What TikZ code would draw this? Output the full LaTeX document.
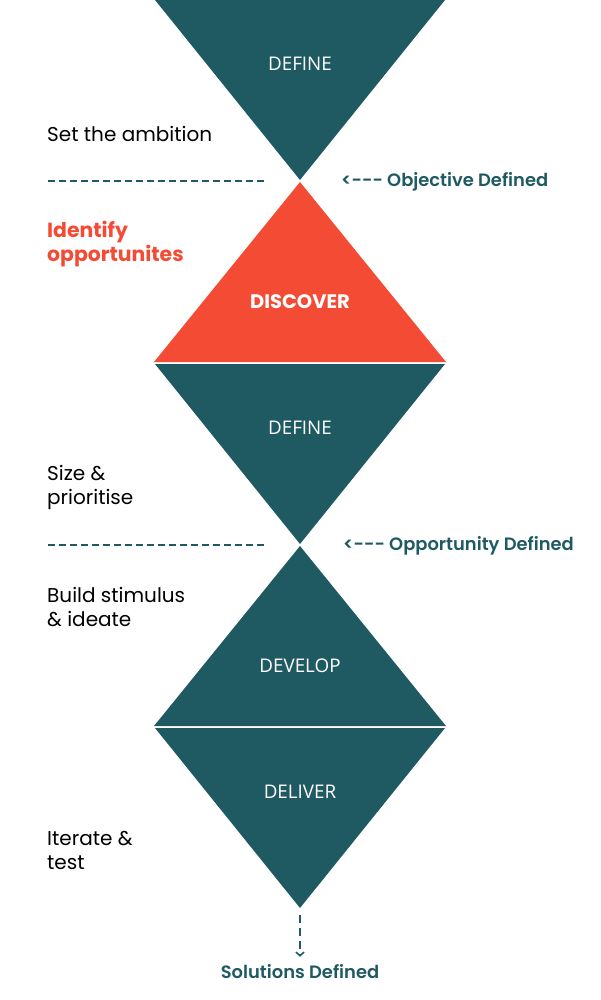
\documentclass[tikz,border=0pt]{standalone}
\usepackage{fontspec}
\setmainfont{Poppins}
\newfontfamily\popsb{Poppins SemiBold}
\newfontfamily\opensans{Open Sans}
\usetikzlibrary{arrows.meta}
\definecolor{dteal}{HTML}{1F5A63}
\definecolor{dorange}{HTML}{F44B35}
\tikzset{
  tri/.style={fill=dteal},
  trilabel/.style={text=white,font=\opensans\fontsize{18.8}{22}\selectfont,inner sep=0pt},
  lefttext/.style={anchor=west,align=left,inner sep=0pt,text=black,font=\fontsize{20}{24}\selectfont},
  milestone/.style={text=dteal,inner sep=0pt,font=\popsb\fontsize{17.9}{20}\selectfont},
  sep/.style={draw=dteal,line width=2pt,dash pattern=on 7pt off 4pt},
}
\begin{document}
\begin{tikzpicture}[x=1pt,y=-1pt]
\useasboundingbox (0,0) rectangle (600,1000);
% triangles
\fill[tri] (155,0) -- (445,0) -- (300,180) -- cycle;
\fill[fill=dorange] (300,182) -- (446,362) -- (154,362) -- cycle;
\fill[tri] (155,364) -- (445,364) -- (300,544) -- cycle;
\fill[tri] (300,546) -- (446,726) -- (154,726) -- cycle;
\fill[tri] (155,728) -- (445,728) -- (300,908) -- cycle;
% triangle labels
\node[trilabel] (def1) at (300,64) {DEFINE};
\node[trilabel,font=\bfseries\fontsize{19.5}{22}\selectfont] (disc) at (300,302) {DISCOVER};
\node[trilabel] (def2) at (300,428) {DEFINE};
\node[trilabel] (dev) at (300,666) {DEVELOP};
\node[trilabel] (del) at (300,792) {DELIVER};
% left texts
\node[lefttext] (amb) at (47,134) {Set the ambition};
\node[lefttext,text=dorange,font=\bfseries\fontsize{20.4}{24}\selectfont] (idop) at (47,244) {Identify\\opportunites};
\node[lefttext] (size) at (47,487.5) {Size \&\\prioritise};
\node[lefttext] (build) at (47,607.5) {Build stimulus\\\& ideate};
\node[lefttext] (iter) at (47,850.5) {Iterate \&\\test};
% separators
\coordinate (s1a) at (48,181);
\coordinate (s1b) at (265,181);
\draw[sep] (s1a) -- (s1b);
\coordinate (s2a) at (48,545);
\coordinate (s2b) at (265,545);
\draw[sep] (s2a) -- (s2b);
% milestones
\node[milestone,anchor=west] (obj) at (341,181.5) {<--- Objective Defined};
\node[milestone,anchor=west] (opp) at (343,545.5) {<--- Opportunity Defined};
\node[milestone] (sol) at (300,972) {Solutions Defined};
\coordinate (apex) at (300,915);
\draw[draw=dteal,line width=2pt,dash pattern=on 8pt off 5pt,-{Straight Barb[length=3.5pt,width=8pt,line width=1.6pt]}] (apex) -- ([yshift=8pt]sol.north);
\end{tikzpicture}
\end{document}
